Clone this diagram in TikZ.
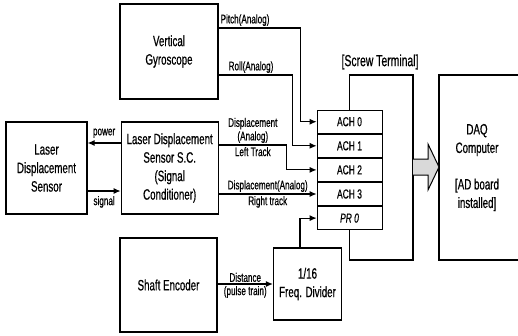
\documentclass[tikz,border=0pt]{standalone}
\usepackage{fontspec}
\setmainfont{Liberation Sans}[FakeStretch=0.65,FakeBold=0.6]
\usetikzlibrary{arrows.meta,positioning}

\begin{document}
\begin{tikzpicture}[
  x=1pt,
  y=-1pt,
  block/.style={
    draw,
    line width=1.2pt,
    align=center,
    inner sep=0pt,
    font=\fontsize{15}{18.5}\selectfont
  },
  chan/.style={
    draw,
    line width=0.7pt,
    minimum width=65pt,
    minimum height=23.4pt,
    inner sep=0pt,
    font=\fontsize{13}{14}\selectfont
  },
  lab/.style={font=\fontsize{12.5}{13.5}\selectfont,align=center,inner sep=1.5pt},
  sig/.style={line width=1.1pt,-{Latex[length=7pt,width=6pt]}},
  wire/.style={line width=1.1pt}
]
\useasboundingbox (0,0) rectangle (518,335);

\node[block,minimum width=98pt,minimum height=95pt] (gyro) at (169,51.5) {Vertical\\Gyroscope};
\node[block,minimum width=81pt,minimum height=92pt] (lds) at (46.5,168) {Laser\\Displacement\\Sensor};
\node[block,minimum width=97pt,minimum height=92pt,right=33pt of lds]
  (ldssc) {Laser Displacement\\Sensor S.C.\\(Signal\\Conditioner)};
\node[block,minimum width=97pt,minimum height=94pt] (shaft) at (168.5,285) {Shaft Encoder};
\node[block,minimum width=68pt,minimum height=72pt] (divider) at (307.5,284) {1/16\\Freq. Divider};

% screw terminal channels
\node[chan] (ach0) at (349.5,121.7) {ACH 0};
\node[chan,below=0pt of ach0] (ach1) {ACH 1};
\node[chan,below=0pt of ach1] (ach2) {ACH 2};
\node[chan,below=0pt of ach2] (ach3) {ACH 3};
\node[chan,below=0pt of ach3] (pr0) {\itshape PR 0};

\coordinate (tr) at (413,75);
\coordinate (br) at (413,260);
\draw[wire] (ach0.north) |- (tr) -- (br) -| (pr0.south);
\node[font=\fontsize{16}{18}\selectfont] (termlab) at (380,62) {[Screw Terminal]};

% DAQ computer
\coordinate (daqtl) at (439,75);
\coordinate (daqbl) at (439,260);
\draw[wire] (daqtl) ++(100,0) -- (daqtl) -- (daqbl) -- ++(100,0);
\node[align=center,font=\fontsize{15}{18.5}\selectfont]
  (daq) at (477,167.5) {DAQ\\Computer\\[18pt]{[}AD board\\installed]};

\draw[line width=1pt,fill=gray!30]
  (tr |- 0,159) -- (428,159) -- (428,144) -- (daqtl |- 0,167)
  -- (428,190) -- (428,175) -- (tr |- 0,175);

\draw[sig] ([yshift=23.5pt]gyro.east) node[lab,anchor=south west]{Pitch(Analog)}
  -- ++(82,0) |- (ach0.west);
\draw[sig] ([yshift=-23.5pt]gyro.east) node[lab,anchor=south west,xshift=8pt]{Roll(Analog)}
  -- ++(74,0) |- (ach1.west);
\draw[sig] ([yshift=23pt]ldssc.east)
  -- node[lab,above]{Displacement\\(Analog)} node[lab,below]{Left Track}
  ++(68,0) |- (ach2.west);
\draw[sig] (ldssc.east |- ach3.west)
  -- node[lab,above]{Displacement(Analog)} node[lab,below]{Right track}
  (ach3.west);
\draw[sig] ([xshift=-7.5pt]divider.north) |- (pr0.west);
\draw[sig] (shaft.east |- divider.west)
  -- node[lab,above]{Distance} node[lab,below]{(pulse train)}
  (divider.west);

\draw[sig] ([yshift=25pt]ldssc.west) -- node[lab,above=3pt]{power} ([yshift=25pt]lds.east);
\draw[sig] ([yshift=-23pt]lds.east) -- node[lab,below=3pt]{signal} ([yshift=-23pt]ldssc.west);
\end{tikzpicture}
\end{document}
